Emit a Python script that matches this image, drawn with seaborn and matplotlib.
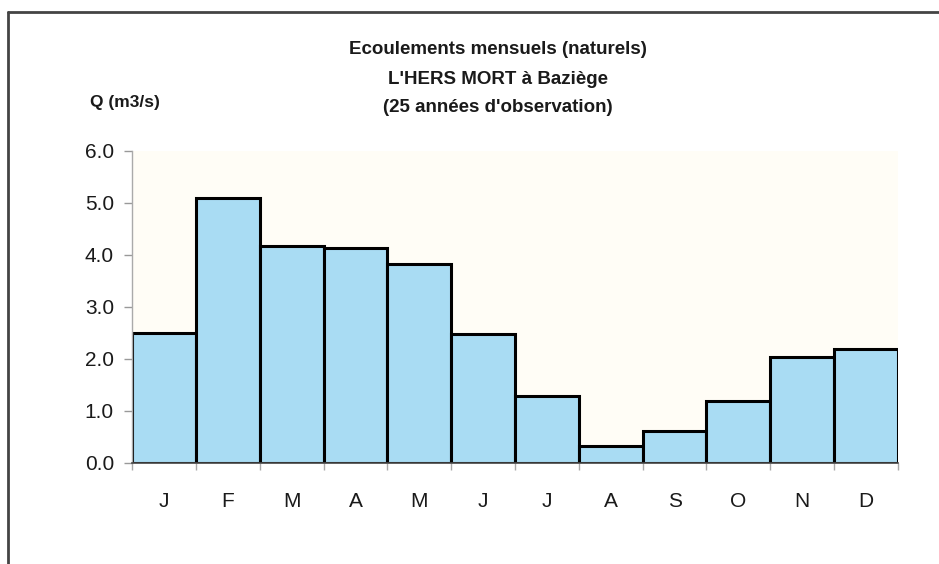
import matplotlib
matplotlib.use("Agg")
import matplotlib.pyplot as plt
from matplotlib.lines import Line2D
from matplotlib.ticker import FixedLocator
import numpy as np
import pandas as pd
import seaborn as sns

# Monthly mean flows (Q in m3/s)
mois = ["janvier", "février", "mars", "avril", "mai", "juin",
        "juillet", "août", "septembre", "octobre", "novembre", "décembre"]
initiales = ["J", "F", "M", "A", "M", "J", "J", "A", "S", "O", "N", "D"]
debit = [2.50, 5.09, 4.18, 4.14, 3.82, 2.48, 1.28, 0.33, 0.62, 1.20, 2.03, 2.20]
y_ticks = [0.0, 1.0, 2.0, 3.0, 4.0, 5.0, 6.0]

titre = ["Ecoulements mensuels (naturels)",
         "L'HERS MORT à Baziège",
         "(25 années d'observation)"]
unite = "Q (m3/s)"

sns.set_theme(style="white")
fam = ["Liberation Sans Narrow", "Liberation Sans", "DejaVu Sans"]
plt.rcParams["font.family"] = ["Liberation Sans", "DejaVu Sans"]

df = pd.DataFrame({"mois": mois, "debit": debit})

fig = plt.figure(figsize=(9.39, 5.64), dpi=100)
ax = fig.add_axes([0.1406, 0.1791, 0.8157, 0.5532])
ax.set_facecolor("#fffdf6")

sns.barplot(data=df, x="mois", y="debit", order=mois, color="#a9dcf3",
            saturation=1, width=1.0, edgecolor="black", linewidth=2.2, ax=ax)

ax.set_xlim(-0.5, 11.5)
ax.set_ylim(0, 6)
ax.set_xlabel("")
ax.set_ylabel("")

# y axis
ax.yaxis.set_major_locator(FixedLocator(y_ticks))
ax.set_yticklabels([f"{v:.1f}" for v in y_ticks], fontsize=15, color="#1a1a1a")
ax.tick_params(axis="y", length=6, width=1, color="#999999", pad=7, left=True)

# x axis: labels centred, ticks on bar boundaries
ax.set_xticks(range(len(initiales)))
ax.set_xticklabels(initiales, fontsize=15, color="#1a1a1a")
ax.tick_params(axis="x", length=0, pad=21)
ax.set_xticks(np.arange(-0.5, 12, 1), minor=True)
ax.tick_params(axis="x", which="minor", length=5, width=1, color="#aaaaaa", bottom=True)

for side in ["top", "right"]:
    ax.spines[side].set_visible(False)
ax.spines["left"].set_color("#aaaaaa")
ax.spines["left"].set_linewidth(1)
ax.spines["bottom"].set_color("#444444")
ax.spines["bottom"].set_linewidth(1.2)

# titles
for ligne, y in zip(titre, [50, 79, 107]):
    fig.text(0.530, 1 - y / 564, ligne, ha="center", va="center", fontsize=13.5,
             fontweight="bold", color="#1a1a1a", family=fam)
fig.text(0.096, 1 - 102 / 564, unite, ha="left", va="center", fontsize=12.5,
         fontweight="bold", color="#1a1a1a", family=fam)

# outer frame (left and top)
fig.add_artist(Line2D([0.0085, 0.0085], [0.979, 0.0], transform=fig.transFigure,
                      color="#444444", linewidth=2))
fig.add_artist(Line2D([0.0085, 1.0], [0.979, 0.979], transform=fig.transFigure,
                      color="#444444", linewidth=2))

fig.savefig("out.png", dpi=100)
